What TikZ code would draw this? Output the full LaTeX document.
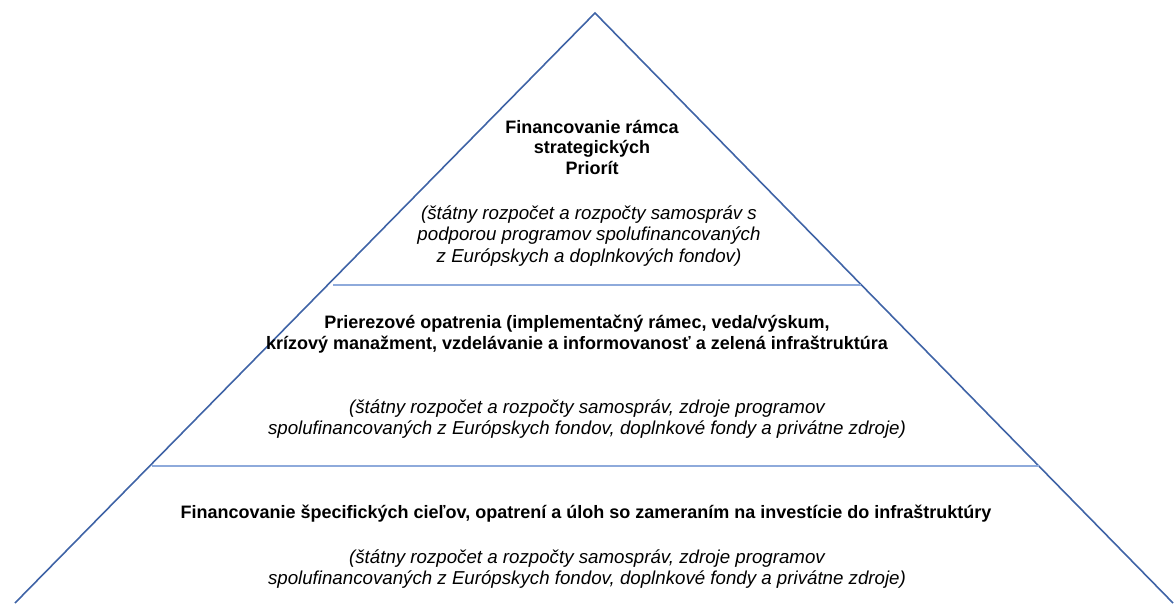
\documentclass[tikz,border=0pt]{standalone}
\usepackage{fontspec}
\setmainfont{Liberation Sans}
\definecolor{edgeblue}{HTML}{3F63A6}
\definecolor{sepblue}{HTML}{8EAADB}
\begin{document}
\begin{tikzpicture}[x=1pt,y=1pt,
  side/.style={draw=edgeblue,line width=1.6pt,line join=miter},
  sepline/.style={draw=sepblue,line width=1.4pt},
  head/.style={font=\fontsize{18}{20.5}\selectfont\bfseries,align=center,inner sep=0pt},
  note/.style={font=\fontsize{18.7}{21.8}\selectfont\itshape,align=center,inner sep=0pt}]
\useasboundingbox (0,0) rectangle (1174,603);
\coordinate (apex) at (595,590);
\coordinate (bl) at (15,0);
\coordinate (br) at (1173,0);
\coordinate (s1l) at (333,318);
\coordinate (s1r) at (861,318);
\coordinate (s2l) at (152,137);
\coordinate (s2r) at (1039,137);
\draw[side] (bl) -- (apex) -- (br);
\draw[sepline] (s1l) -- (s1r);
\draw[sepline] (s2l) -- (s2r);

\node[head] (t1) at (592,456) {Financovanie rámca\\strategických\\Priorít};
\node[note] (t2) at (589,367) {(štátny rozpočet a rozpočty samospráv s\\podporou programov spolufinancovaných\\z Európskych a doplnkových fondov)};
\node[head] (m1) at (577,269) {Prierezové opatrenia (implementačný rámec, veda/výskum,\\krízový manažment, vzdelávanie a informovanosť a zelená infraštruktúra};
\node[note] (m2) at (587,184) {(štátny rozpočet a rozpočty samospráv, zdroje programov\\spolufinancovaných z Európskych fondov, doplnkové fondy a privátne zdroje)};
\node[head] (b1) at (586,89) {Financovanie špecifických cieľov, opatrení a úloh so zameraním na investície do infraštruktúry};
\node[note] (b2) at (587,34) {(štátny rozpočet a rozpočty samospráv, zdroje programov\\spolufinancovaných z Európskych fondov, doplnkové fondy a privátne zdroje)};
\end{tikzpicture}
\end{document}
